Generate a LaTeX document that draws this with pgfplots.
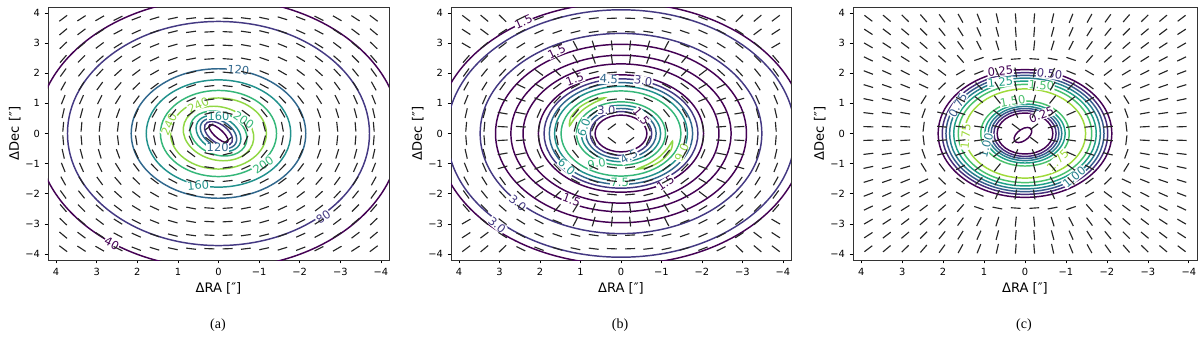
\documentclass[border=0pt]{standalone}
\usepackage{fontspec}
\setmainfont{DejaVu Sans}
\newfontfamily\capfont{Liberation Serif}
\usepackage{pgfplots}
\usepackage{pgfplotstable}
\pgfplotsset{compat=1.18}

% viridis contour colours
\definecolor{v1}{HTML}{440154}
\definecolor{v2}{HTML}{443983}
\definecolor{v3}{HTML}{31688E}
\definecolor{v4}{HTML}{21918C}
\definecolor{v5}{HTML}{35B779}
\definecolor{v6}{HTML}{90D743}
\definecolor{c1}{HTML}{440154}
\definecolor{c2}{HTML}{472D7B}
\definecolor{c3}{HTML}{375A8C}
\definecolor{c4}{HTML}{277F8E}
\definecolor{c5}{HTML}{1FA187}
\definecolor{c6}{HTML}{4AC16D}
\definecolor{c7}{HTML}{9FDA3A}

% segment angles (screen degrees), one column per x position
\pgfplotstableread{
y c1 c2 c3 c4 c5 c6 c7 c8 c9 c10 c11 c12 c13 c14 c15 c16 c17 c18
3.825 37 33 30 26 21 17 12 7 2 -2 -7 -12 -17 -21 -26 -30 -33 -37
3.375 40 37 33 28 24 19 14 8 3 -3 -8 -14 -19 -24 -28 -33 -37 -40
2.925 44 40 37 32 27 22 16 10 3 -3 -10 -16 -22 -27 -32 -37 -40 -44
2.475 49 45 41 37 31 25 19 11 4 -4 -11 -19 -25 -31 -37 -41 -45 -49
2.025 54 51 47 42 37 30 22 14 5 -5 -14 -22 -30 -37 -42 -47 -51 -54
1.575 61 58 54 49 44 37 28 18 6 -6 -18 -28 -37 -44 -49 -54 -58 -61
1.125 68 66 63 58 53 46 37 24 8 -8 -24 -37 -46 -53 -58 -63 -66 -68
0.675 77 75 73 70 66 60 51 37 14 -14 -37 -51 -60 -66 -70 -73 -75 -77
0.225 85 85 84 83 81 79 75 66 37 -37 -66 -75 -79 -81 -83 -84 -85 -85
-0.225 -85 -85 -84 -83 -81 -79 -75 -66 -37 37 66 75 79 81 83 84 85 85
-0.675 -77 -75 -73 -70 -66 -60 -51 -37 -14 14 37 51 60 66 70 73 75 77
-1.125 -68 -66 -63 -58 -53 -46 -37 -24 -8 8 24 37 46 53 58 63 66 68
-1.575 -61 -58 -54 -49 -44 -37 -28 -18 -6 6 18 28 37 44 49 54 58 61
-2.025 -54 -51 -47 -42 -37 -30 -22 -14 -5 5 14 22 30 37 42 47 51 54
-2.475 -49 -45 -41 -37 -31 -25 -19 -11 -4 4 11 19 25 31 37 41 45 49
-2.925 -44 -40 -37 -32 -27 -22 -16 -10 -3 3 10 16 22 27 32 37 40 44
-3.375 -40 -37 -33 -28 -24 -19 -14 -8 -3 3 8 14 19 24 28 33 37 40
-3.825 -37 -33 -30 -26 -21 -17 -12 -7 -2 2 7 12 17 21 26 30 33 37
}\segA

\pgfplotstableread{
y c1 c2 c3 c4 c5 c6 c7 c8 c9 c10 c11 c12 c13 c14 c15 c16 c17 c18
3.825 143 140 136 26 21 17 12 7 2 -2 -7 -12 -17 -21 -26 -136 -140 -143
3.375 147 143 33 28 24 19 14 8 3 -3 -8 -14 -19 -24 -28 -33 -143 -147
2.925 150 40 37 32 27 22 117 107 96 -96 -107 -117 -22 -27 -32 -37 -40 -150
2.475 49 45 41 37 31 131 122 110 97 -97 -110 -122 -131 -31 -37 -41 -45 -49
2.025 54 51 47 42 143 136 127 14 5 -5 -14 -127 -136 -143 -42 -47 -51 -54
1.575 61 58 54 155 150 37 28 18 6 -6 -18 -28 -37 -150 -155 -54 -58 -61
1.125 68 66 164 161 158 46 37 24 8 -8 -24 -37 -46 -158 -161 -164 -66 -68
0.675 77 75 170 169 66 60 51 37 14 -14 -37 -51 -60 -66 -169 -170 -75 -77
0.225 85 85 177 176 81 79 75 66 37 -37 -66 -75 -79 -81 -176 -177 -85 -85
-0.225 -85 -85 -177 -176 -81 -79 -75 -66 -37 37 66 75 79 81 176 177 85 85
-0.675 -77 -75 -170 -169 -66 -60 -51 -37 -14 14 37 51 60 66 169 170 75 77
-1.125 -68 -66 -164 -161 -158 -46 -37 -24 -8 8 24 37 46 158 161 164 66 68
-1.575 -61 -58 -54 -155 -150 -37 -28 -18 -6 6 18 28 37 150 155 54 58 61
-2.025 -54 -51 -47 -42 -143 -136 -127 -14 -5 5 14 127 136 143 42 47 51 54
-2.475 -49 -45 -41 -37 -31 -131 -122 -110 -97 97 110 122 131 31 37 41 45 49
-2.925 -150 -40 -37 -32 -27 -22 -117 -107 -96 96 107 117 22 27 32 37 40 150
-3.375 -147 -143 -33 -28 -24 -19 -14 -8 -3 3 8 14 19 24 28 33 143 147
-3.825 -143 -140 -136 -26 -21 -17 -12 -7 -2 2 7 12 17 21 26 136 140 143
}\segB

\pgfplotstableread{
y c1 c2 c3 c4 c5 c6 c7 c8 c9 c10 c11 c12 c13 c14 c15 c16 c17 c18
3.825 143 140 136 131 126 119 112 103 95 -95 -103 -112 -119 -126 -131 -136 -140 -143
3.375 147 143 140 135 129 122 114 105 95 -95 -105 -114 -122 -129 -135 -140 -143 -147
2.925 150 147 143 139 133 126 117 107 96 -96 -107 -117 -126 -133 -139 -143 -147 -150
2.475 154 152 148 143 138 131 19 11 4 -4 -11 -19 -131 -138 -143 -148 -152 -154
2.025 159 156 153 149 143 30 22 114 99 -99 -114 -22 -30 -143 -149 -153 -156 -159
1.575 163 161 158 155 44 37 134 120 101 -101 -120 -134 -37 -44 -155 -158 -161 -163
1.125 168 166 164 58 53 152 143 129 105 -105 -129 -143 -152 -53 -58 -164 -166 -168
0.675 173 172 170 70 166 162 156 143 114 -114 -143 -156 -162 -166 -70 -170 -172 -173
0.225 178 177 177 83 175 174 172 166 143 -143 -166 -172 -174 -175 -83 -177 -177 -178
-0.225 -178 -177 -177 -83 -175 -174 -172 -166 -143 143 166 172 174 175 83 177 177 178
-0.675 -173 -172 -170 -70 -166 -162 -156 -143 -114 114 143 156 162 166 70 170 172 173
-1.125 -168 -166 -164 -58 -53 -152 -143 -129 -105 105 129 143 152 53 58 164 166 168
-1.575 -163 -161 -158 -155 -44 -37 -134 -120 -101 101 120 134 37 44 155 158 161 163
-2.025 -159 -156 -153 -149 -143 -30 -22 -114 -99 99 114 22 30 143 149 153 156 159
-2.475 -154 -152 -148 -143 -138 -131 -19 -11 -4 4 11 19 131 138 143 148 152 154
-2.925 -150 -147 -143 -139 -133 -126 -117 -107 -96 96 107 117 126 133 139 143 147 150
-3.375 -147 -143 -140 -135 -129 -122 -114 -105 -95 95 105 114 122 129 135 140 143 147
-3.825 -143 -140 -136 -131 -126 -119 -112 -103 -95 95 103 112 119 126 131 136 140 143
}\segC

\pgfplotsset{
  panel/.style={
    scale only axis, height=189.75pt,
    xmin=-4.2, xmax=4.2, ymin=-4.2, ymax=4.2, x dir=reverse,
    xtick={-4,-3,-2,-1,0,1,2,3,4}, ytick={-4,-3,-2,-1,0,1,2,3,4},
    xticklabels={−4,−3,−2,−1,0,1,2,3,4},
    yticklabels={−4,−3,−2,−1,0,1,2,3,4},
    tick align=outside, tick pos=left, major tick length=2.6pt,
    tick style={black, line width=0.5pt},
    tick label style={font=\fontsize{7.4}{8}\selectfont},
    axis line style={black!80, line width=0.6pt},
    xlabel={ΔRA [″]}, ylabel={ΔDec [″]},
    every axis x label/.style={at={(axis description cs:0.5,0)}, anchor=center,
      yshift=-21pt, font=\fontsize{9.8}{11}\selectfont},
    every axis y label/.style={at={(axis description cs:0,0.5)}, anchor=center,
      xshift=-25pt, rotate=90, font=\fontsize{9.8}{11}\selectfont},
  },
  seg/.style={scatter, only marks, mark=-, mark size=3.7pt,
    mark options={line width=0.85pt},
    scatter/use mapped color={draw=black!85, fill=black!85},
    scatter/@pre marker code/.append style={/tikz/rotate=\ang}},
  cont/.style={no markers, smooth cycle, tension=0.68, line width=1.1pt},
}
\tikzset{lab/.style={font=\fontsize{8.6}{9}\selectfont, fill=white, inner sep=0.4pt}}

\newcommand{\segs}[1]{%
  \pgfplotsinvokeforeach{1,...,18}{%
    \addplot[seg, visualization depends on={\thisrow{c##1} \as \ang}]
      table[x expr={4.275-0.45*##1}, y=y] {#1};
  }%
}

\begin{document}
\begin{tikzpicture}
\useasboundingbox (0,0) rectangle (900pt,258pt);

% ---------------- (a)
\begin{axis}[panel, width=255.75pt, at={(36pt,63pt)}, anchor=south west]
\segs{\segA}
\addplot[cont, v1] coordinates {(4.48,0) (3.168,3.168) (0,4.48) (-3.168,3.168) (-4.48,0) (-3.168,-3.168) (0,-4.48) (3.168,-3.168)};
\addplot[cont, v2] coordinates {(3.72,0) (2.63,2.63) (0,3.72) (-2.63,2.63) (-3.72,0) (-2.63,-2.63) (0,-3.72) (2.63,-2.63)};
\addplot[cont, v3] coordinates {(2.15,0) (1.52,1.52) (0,2.15) (-1.52,1.52) (-2.15,0) (-1.52,-1.52) (0,-2.15) (1.52,-1.52)};
\addplot[cont, v4] coordinates {(1.78,0) (1.259,1.259) (0,1.78) (-1.259,1.259) (-1.78,0) (-1.259,-1.259) (0,-1.78) (1.259,-1.259)};
\addplot[cont, v5] coordinates {(1.43,0) (1.011,1.011) (0,1.43) (-1.011,1.011) (-1.43,0) (-1.011,-1.011) (0,-1.43) (1.011,-1.011)};
\addplot[cont, v6] coordinates {(1.18,0) (0.834,0.834) (0,1.18) (-0.834,0.834) (-1.18,0) (-0.834,-0.834) (0,-1.18) (0.834,-0.834)};
\addplot[cont, v6] coordinates {(0.57,0.76) (-0.061,0.885) (-0.656,0.492) (-0.867,-0.19) (-0.57,-0.76) (0.061,-0.885) (0.656,-0.492) (0.867,0.19)};
\addplot[cont, v5] coordinates {(0.48,0.64) (-0.023,0.724) (-0.512,0.384) (-0.701,-0.181) (-0.48,-0.64) (0.023,-0.724) (0.512,-0.384) (0.701,0.181)};
\addplot[cont, v4] coordinates {(0.396,0.528) (0.008,0.577) (-0.384,0.288) (-0.552,-0.17) (-0.396,-0.528) (-0.008,-0.577) (0.384,-0.288) (0.552,0.17)};
\addplot[cont, v3] coordinates {(0.336,0.448) (0.028,0.474) (-0.296,0.222) (-0.447,-0.16) (-0.336,-0.448) (-0.028,-0.474) (0.296,-0.222) (0.447,0.16)};
\addplot[cont, v2] coordinates {(0.276,0.368) (0.048,0.371) (-0.208,0.156) (-0.342,-0.15) (-0.276,-0.368) (-0.048,-0.371) (0.208,-0.156) (0.342,0.15)};
\addplot[cont, v1] coordinates {(0.216,0.288) (0.085,0.255) (-0.096,0.072) (-0.221,-0.153) (-0.216,-0.288) (-0.085,-0.255) (0.096,-0.072) (0.221,0.153)};
\node[lab, text=v1, rotate=-28] at (axis cs:2.63,-3.65) {40};
\node[lab, text=v2, rotate=34] at (axis cs:-2.58,-2.77) {80};
\node[lab, text=v3, rotate=-5] at (axis cs:-0.49,2.11) {120};
\node[lab, text=v4, rotate=5] at (axis cs:0.5,-1.72) {160};
\node[lab, text=v5, rotate=35] at (axis cs:-1.1,-1.05) {200};
\node[lab, text=v6, rotate=65] at (axis cs:1.22,0.3) {240};
\node[lab, text=v6, rotate=25] at (axis cs:0.5,0.95) {240};
\node[lab, text=v4] at (axis cs:0.0,0.58) {160};
\node[lab, text=v5, rotate=-35] at (axis cs:-0.62,0.45) {200};
\node[lab, text=v3] at (axis cs:0.02,-0.47) {120};
\end{axis}

% ---------------- (b)
\begin{axis}[panel, width=255pt, at={(338.25pt,63pt)}, anchor=south west]
\segs{\segB}
\addplot[cont, v1] coordinates {(4.55,0) (3.217,3.073) (0,4.345) (-3.217,3.073) (-4.55,0) (-3.217,-3.073) (0,-4.345) (3.217,-3.073)};
\addplot[cont, v2] coordinates {(4.3,0) (3.041,2.904) (0,4.107) (-3.041,2.904) (-4.3,0) (-3.041,-2.904) (0,-4.107) (3.041,-2.904)};
\addplot[cont, v2] coordinates {(3.48,0) (2.461,2.35) (0,3.323) (-2.461,2.35) (-3.48,0) (-2.461,-2.35) (0,-3.323) (2.461,-2.35)};
\addplot[cont, v1] coordinates {(3.1,0) (2.192,2.093) (0,2.961) (-2.192,2.093) (-3.1,0) (-2.192,-2.093) (0,-2.961) (2.192,-2.093)};
\addplot[cont, v1] coordinates {(2.72,0) (1.923,1.837) (0,2.598) (-1.923,1.837) (-2.72,0) (-1.923,-1.837) (0,-2.598) (1.923,-1.837)};
\addplot[cont, v1] coordinates {(2.42,0) (1.711,1.634) (0,2.311) (-1.711,1.634) (-2.42,0) (-1.711,-1.634) (0,-2.311) (1.711,-1.634)};
\addplot[cont, v1] coordinates {(2.04,0) (1.442,1.378) (0,1.948) (-1.442,1.378) (-2.04,0) (-1.442,-1.378) (0,-1.948) (1.442,-1.378)};
\addplot[cont, v2] coordinates {(1.9,0) (1.343,1.283) (0,1.815) (-1.343,1.283) (-1.9,0) (-1.343,-1.283) (0,-1.815) (1.343,-1.283)};
\addplot[cont, v3] coordinates {(1.77,0) (1.252,1.195) (0,1.69) (-1.252,1.195) (-1.77,0) (-1.252,-1.195) (0,-1.69) (1.252,-1.195)};
\addplot[cont, v4] coordinates {(1.64,0) (1.16,1.108) (0,1.566) (-1.16,1.108) (-1.64,0) (-1.16,-1.108) (0,-1.566) (1.16,-1.108)};
\addplot[cont, v5] coordinates {(1.48,0) (1.047,0.999) (0,1.413) (-1.047,0.999) (-1.48,0) (-1.047,-0.999) (0,-1.413) (1.047,-0.999)};
\addplot[cont, v6, tension=0.5] coordinates {(1.272,0.258) (1.233,0.549) (1.018,0.875) (0.721,1.101) (0.402,1.181) (0.668,1.021) (0.929,0.799) (1.142,0.508)};
\addplot[cont, v6, tension=0.5] coordinates {(-1.272,-0.258) (-1.233,-0.549) (-1.018,-0.875) (-0.721,-1.101) (-0.402,-1.181) (-0.668,-1.021) (-0.929,-0.799) (-1.142,-0.508)};
\addplot[cont, v5] coordinates {(1.1,0) (0.778,0.743) (0,1.051) (-0.778,0.743) (-1.1,0) (-0.778,-0.743) (0,-1.051) (0.778,-0.743)};
\addplot[cont, v4] coordinates {(0.98,0) (0.693,0.662) (0,0.936) (-0.693,0.662) (-0.98,0) (-0.693,-0.662) (0,-0.936) (0.693,-0.662)};
\addplot[cont, v3] coordinates {(0.87,0) (0.615,0.588) (0,0.831) (-0.615,0.588) (-0.87,0) (-0.615,-0.588) (0,-0.831) (0.615,-0.588)};
\addplot[cont, v2] coordinates {(0.76,0) (0.537,0.513) (0,0.726) (-0.537,0.513) (-0.76,0) (-0.537,-0.513) (0,-0.726) (0.537,-0.513)};
\addplot[cont, v1] coordinates {(0.64,0) (0.453,0.432) (0,0.611) (-0.453,0.432) (-0.64,0) (-0.453,-0.432) (0,-0.611) (0.453,-0.432)};
\node[lab, text=v1, rotate=24] at (axis cs:2.41,3.71) {1.5};
\node[lab, text=v1, rotate=25] at (axis cs:1.59,2.72) {1.5};
\node[lab, text=v1, rotate=20] at (axis cs:1.14,1.8) {1.5};
\node[lab, text=v3, rotate=-3] at (axis cs:0.3,1.8) {4.5};
\node[lab, text=v2, rotate=-8] at (axis cs:-0.55,1.74) {3.0};
\node[lab, text=v2] at (axis cs:0.36,0.76) {3.0};
\node[lab, text=v1, rotate=-50] at (axis cs:-0.5,0.58) {1.5};
\node[lab, text=v4, rotate=70] at (axis cs:0.92,0.2) {6.0};
\node[lab, text=v6, rotate=65] at (axis cs:-1.5,-0.62) {9.0};
\node[lab, text=v5, rotate=10] at (axis cs:0.6,-0.99) {9.0};
\node[lab, text=v3, rotate=30] at (axis cs:-0.2,-0.77) {4.5};
\node[lab, text=v4, rotate=-40] at (axis cs:1.34,-1.1) {6.0};
\node[lab, text=v5] at (axis cs:0.03,-1.62) {7.5};
\node[lab, text=v1, rotate=35] at (axis cs:-1.1,-1.65) {1.5};
\node[lab, text=v1, rotate=-20] at (axis cs:1.22,-2.21) {1.5};
\node[lab, text=v2, rotate=-40] at (axis cs:3.06,-3.03) {3.0};
\node[lab, text=v2, rotate=-40] at (axis cs:2.55,-2.3) {3.0};
\end{axis}

% ---------------- (c)
\begin{axis}[panel, width=258pt, at={(639.75pt,63pt)}, anchor=south west]
\segs{\segC}
\addplot[cont, c1] coordinates {(2.12,0) (1.499,1.499) (0,2.12) (-1.499,1.499) (-2.12,0) (-1.499,-1.499) (0,-2.12) (1.499,-1.499)};
\addplot[cont, c2] coordinates {(2.02,0) (1.428,1.428) (0,2.02) (-1.428,1.428) (-2.02,0) (-1.428,-1.428) (0,-2.02) (1.428,-1.428)};
\addplot[cont, c3] coordinates {(1.93,0) (1.365,1.365) (0,1.93) (-1.365,1.365) (-1.93,0) (-1.365,-1.365) (0,-1.93) (1.365,-1.365)};
\addplot[cont, c4] coordinates {(1.84,0) (1.301,1.301) (0,1.84) (-1.301,1.301) (-1.84,0) (-1.301,-1.301) (0,-1.84) (1.301,-1.301)};
\addplot[cont, c5] coordinates {(1.74,0) (1.23,1.23) (0,1.74) (-1.23,1.23) (-1.74,0) (-1.23,-1.23) (0,-1.74) (1.23,-1.23)};
\addplot[cont, c6] coordinates {(1.63,0) (1.153,1.153) (0,1.63) (-1.153,1.153) (-1.63,0) (-1.153,-1.153) (0,-1.63) (1.153,-1.153)};
\addplot[cont, c7] coordinates {(1.48,0) (1.047,1.047) (0,1.48) (-1.047,1.047) (-1.48,0) (-1.047,-1.047) (0,-1.48) (1.047,-1.047)};
\addplot[cont, c6] coordinates {(1.08,0) (0.764,0.764) (0,1.08) (-0.764,0.764) (-1.08,0) (-0.764,-0.764) (0,-1.08) (0.764,-0.764)};
\addplot[cont, c5] coordinates {(0.98,0) (0.693,0.693) (0,0.98) (-0.693,0.693) (-0.98,0) (-0.693,-0.693) (0,-0.98) (0.693,-0.693)};
\addplot[cont, c4] coordinates {(0.9,0) (0.636,0.636) (0,0.9) (-0.636,0.636) (-0.9,0) (-0.636,-0.636) (0,-0.9) (0.636,-0.636)};
\addplot[cont, c3] coordinates {(0.83,0) (0.587,0.587) (0,0.83) (-0.587,0.587) (-0.83,0) (-0.587,-0.587) (0,-0.83) (0.587,-0.587)};
\addplot[cont, c2] coordinates {(0.76,0) (0.537,0.537) (0,0.76) (-0.537,0.537) (-0.76,0) (-0.537,-0.537) (0,-0.76) (0.537,-0.537)};
\addplot[cont, c1] coordinates {(0.68,0) (0.481,0.481) (0,0.68) (-0.481,0.481) (-0.68,0) (-0.481,-0.481) (0,-0.68) (0.481,-0.481)};
\addplot[cont, c1] coordinates {(-0.124,0.182) (0.017,0.182) (0.178,0.046) (0.264,-0.146) (0.224,-0.282) (0.083,-0.282) (-0.078,-0.146) (-0.164,0.046)};
\node[lab, text=c1, rotate=5] at (axis cs:0.6,2.08) {0.25};
\node[lab, text=c2, rotate=-8] at (axis cs:-0.6,1.98) {0.50};
\node[lab, text=c5, rotate=5] at (axis cs:0.6,1.7) {1.25};
\node[lab, text=c6, rotate=-5] at (axis cs:-0.4,1.6) {1.50};
\node[lab, text=c3, rotate=60] at (axis cs:1.64,0.95) {0.75};
\node[lab, text=c7, rotate=85] at (axis cs:1.45,-0.1) {1.75};
\node[lab, text=c6, rotate=10] at (axis cs:0.3,1.08) {1.50};
\node[lab, text=c4, rotate=75] at (axis cs:0.95,-0.4) {1.00};
\node[lab, text=c1, rotate=20] at (axis cs:-0.4,0.62) {0.25};
\node[lab, text=c7, rotate=45] at (axis cs:-0.8,-0.9) {1.75};
\node[lab, text=c4, rotate=40] at (axis cs:-1.2,-1.45) {1.00};
\end{axis}

\node[font=\capfont\fontsize{10.5}{12}\selectfont] at (163.5pt,14.25pt) {(a)};
\node[font=\capfont\fontsize{10.5}{12}\selectfont] at (465pt,14.25pt) {(b)};
\node[font=\capfont\fontsize{10.5}{12}\selectfont] at (768pt,14.25pt) {(c)};
\end{tikzpicture}
\end{document}
